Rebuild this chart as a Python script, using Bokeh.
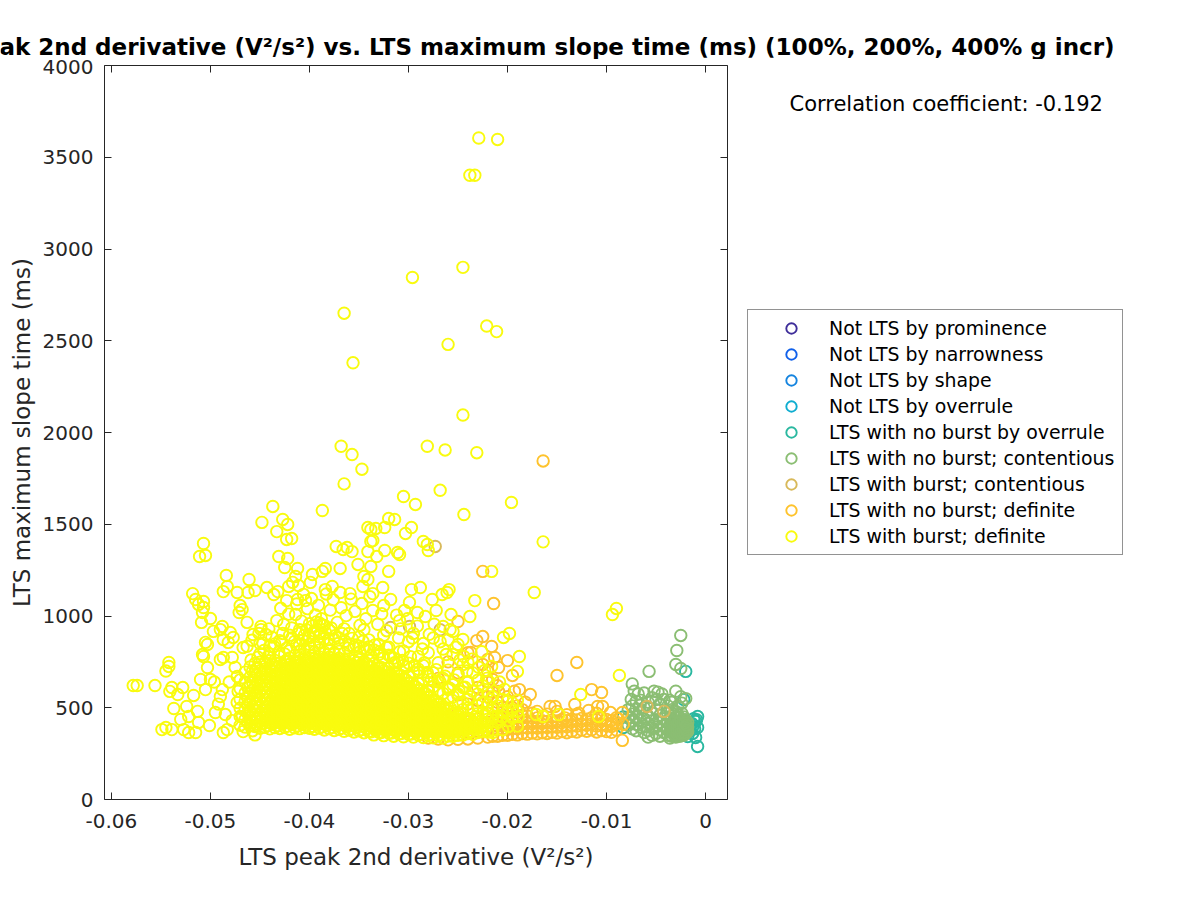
from bokeh.plotting import figure
from bokeh.layouts import column, row
from bokeh.models import Label, Legend, LegendItem, LinearAxis, Range1d, FixedTicker
from bokeh.embed import file_html
from bokeh.resources import INLINE

series_names = ["Not LTS by prominence", "Not LTS by narrowness", "Not LTS by shape", "Not LTS by overrule",
                "LTS with no burst by overrule", "LTS with no burst; contentious", "LTS with burst; contentious",
                "LTS with no burst; definite", "LTS with burst; definite"]
series_colors = ["#3F2E9A", "#1060EA", "#1584DF", "#0FADD0", "#2AB8A0", "#8BBE73", "#D8B95A", "#FEC32D", "#F9FB0E"]
x_ticks = [-0.06, -0.05, -0.04, -0.03, -0.02, -0.01, 0]
x_tick_labels = ["-0.06", "-0.05", "-0.04", "-0.03", "-0.02", "-0.01", "0"]
y_ticks = [0, 500, 1000, 1500, 2000, 2500, 3000, 3500, 4000]
title_text = "LTS peak 2nd derivative (V²/s²) vs. LTS maximum slope time (ms) (100%, 200%, 400% g incr)"
x_label = "LTS peak 2nd derivative (V²/s²)"
y_label = "LTS maximum slope time (ms)"
corr_text = "Correlation coefficient: -0.192"

yellow_sparse = [
 (-0.0229,3605),(-0.0210,3597),(-0.0238,3402),(-0.0233,3402),(-0.0245,2900),(-0.0296,2845),(-0.0365,2650),
 (-0.0221,2580),(-0.0211,2550),(-0.0260,2480),(-0.0356,2380),(-0.0245,2095),(-0.0368,1925),(-0.0281,1925),
 (-0.0263,1905),(-0.0231,1890),(-0.0357,1880),(-0.0347,1800),(-0.0365,1720),(-0.0268,1685),(-0.0305,1651),
 (-0.0293,1608),(-0.0196,1619),(-0.0244,1553),(-0.0387,1575),(-0.0164,1404),(-0.0437,1597),(-0.0448,1510),
 (-0.0427,1526),(-0.0422,1499),(-0.0433,1460),(-0.0418,1422),(-0.0423,1417),(-0.0507,1395),(-0.0505,1330),
 (-0.0511,1324),(-0.0431,1324),(-0.0422,1313),(-0.0425,1264),(-0.0412,1259),(-0.0373,1379),(-0.0362,1373),
 (-0.0366,1362),(-0.0357,1351),(-0.0341,1482),(-0.0338,1471),(-0.0338,1406),(-0.0341,1351),(-0.0351,1281),
 (-0.0369,1259),(-0.0384,1259),(-0.0387,1243),(-0.0397,1226),(-0.0484,1221),(-0.0461,1199),(-0.0414,1215),
 (-0.0483,1161),(-0.0487,1133),(-0.0473,1128),(-0.0462,1128),(-0.0455,1139),(-0.0443,1155),(-0.0432,1133),
 (-0.0436,1117),(-0.0421,1161),(-0.0417,1183),(-0.0411,1166),(-0.0399,1183),(-0.0384,1144),(-0.0377,1161),
 (-0.0369,1128),(-0.0359,1122),(-0.0345,1215),(-0.0341,1199),(-0.0346,1161),(-0.0518,1122),(-0.0515,1090),
 (-0.0507,1079),(-0.0512,1063),(-0.0507,1046),(-0.0508,1019),(-0.0500,986),(-0.0509,965),(-0.0470,1057),
 (-0.0468,1035),(-0.0471,1019),(-0.0463,965),(-0.0423,1084),(-0.0412,1090),(-0.0404,1084),(-0.0414,1008),
 (-0.0426,954),(-0.0449,943),(-0.0320,1531),(-0.0314,1526),(-0.0333,1477),(-0.0324,1482),(-0.0297,1482),
 (-0.0303,1450),(-0.0336,1411),(-0.0285,1406),(-0.0281,1390),(-0.0280,1357),(-0.0324,1357),(-0.0311,1346),
 (-0.0309,1335),(-0.0332,1324),(-0.0338,1270),(-0.0216,1243),(-0.0320,1243),(-0.0173,1128),(-0.0233,1084),
 (-0.0288,1155),(-0.0297,1144),(-0.0259,1144),(-0.0261,1128),(-0.0266,1117),(-0.0326,1155),(-0.0336,1122),
 (-0.0276,1090),(-0.0299,1074),(-0.0325,1057),(-0.0304,1030),(-0.0272,1030),(-0.0291,1019),(-0.0283,997),
 (-0.0257,1008),(-0.0238,997),(-0.0309,975),(-0.0198,905),(-0.0204,883),(-0.0188,779),(-0.0190,698),
 (-0.0223,703),(-0.0219,643),(-0.0094,1008),(-0.0090,1041),(-0.0087,676),(-0.0126,572),(-0.0108,452),
 (-0.0148,463),(-0.0164,452),(-0.0171,463),(-0.0200,534),(-0.0217,545),(-0.0245,872),(-0.0255,916),
 (-0.0265,943),(-0.0240,747),(-0.0244,779),(-0.0207,436),(-0.0199,398),(-0.0215,365),(-0.0189,452),
 (-0.0574,621),(-0.0578,621),(-0.0556,621),(-0.0542,747),(-0.0545,700),(-0.0542,725),(-0.0549,381),
 (-0.0545,392),(-0.0539,381),(-0.0539,610),(-0.0541,589),(-0.0528,610),(-0.0533,572),(-0.0537,496),
 (-0.0524,507),(-0.0530,436),(-0.0522,452),(-0.0527,381),(-0.0522,365),(-0.0515,365),(-0.0512,420),
 (-0.0501,403),(-0.0513,480),(-0.0517,567),(-0.0510,654),(-0.0505,599),(-0.0500,654),(-0.0507,779),
 (-0.0505,856),(-0.0497,916),(-0.0503,719),(-0.0490,926),(-0.0488,943),(-0.0480,910),(-0.0487,872),
 (-0.0482,856),(-0.0477,883),(-0.0490,763),(-0.0487,774),(-0.0478,774),(-0.0488,599),(-0.0490,561),
 (-0.0495,474),(-0.0485,463),(-0.0487,365),(-0.0483,381),(-0.0467,370),(-0.0473,670),(-0.0473,529),
 (-0.0472,589),(-0.0449,926),(-0.0444,899),(-0.0457,899),(-0.0467,828),(-0.0459,760),(-0.0475,720),
 (-0.0496,640),(-0.0492,520),(-0.0478,430),(-0.0468,450),(-0.0508,790),(-0.0503,845),(-0.0481,640),
]
yellow_upper = [
 (-0.0463,835),(-0.0458,868),(-0.0451,905),(-0.0447,852),(-0.0441,930),(-0.0438,885),(-0.0433,975),(-0.0429,1042),
 (-0.0427,905),(-0.0421,1010),(-0.0418,935),(-0.0413,1065),(-0.0408,972),(-0.0406,1118),(-0.0402,1040),(-0.0398,1095),
 (-0.0394,1006),(-0.0391,1058),(-0.0388,985),(-0.0383,1120),(-0.0379,1032),(-0.0376,1088),(-0.0372,965),(-0.0368,1045),
 (-0.0363,1002),(-0.0358,1092),(-0.0354,1025),(-0.0349,950),(-0.0347,1068),(-0.0343,985),(-0.0339,1105),(-0.0336,1030),
 (-0.0331,955),(-0.0327,1012),(-0.0322,920),(-0.0318,1090),(-0.0312,1005),(-0.0308,930),(-0.0301,985),(-0.0296,880),
 (-0.0291,945),(-0.0286,820),(-0.0279,900),(-0.0274,955),(-0.0268,860),(-0.0262,790),(-0.0258,925),(-0.0252,830),
 (-0.0248,760),(-0.0241,700),(-0.0236,765),(-0.0229,720),(-0.0226,805),(-0.0221,660),(-0.0216,725),(-0.0208,640),(-0.0203,600),
]
yellow_ridge = [
 (-0.0452,775),(-0.0446,812),(-0.0442,778),(-0.0436,835),(-0.0431,802),(-0.0428,858),(-0.0423,825),(-0.0418,880),
 (-0.0413,842),(-0.0411,905),(-0.0407,868),(-0.0403,925),(-0.0401,888),(-0.0397,945),(-0.0396,905),(-0.0393,968),
 (-0.0392,925),(-0.0389,905),(-0.0387,950),(-0.0384,912),(-0.0381,872),(-0.0378,935),(-0.0374,892),(-0.0371,850),
 (-0.0367,905),(-0.0364,862),(-0.0361,825),(-0.0357,878),(-0.0353,842),(-0.0349,805),(-0.0346,862),(-0.0342,818),
 (-0.0338,785),(-0.0334,842),(-0.0329,805),(-0.0326,770),(-0.0322,828),(-0.0318,782),(-0.0314,745),(-0.0309,805),
 (-0.0306,758),(-0.0302,722),(-0.0298,778),(-0.0294,730),(-0.0289,695),(-0.0284,745),(-0.0281,692),(-0.0277,655),
 (-0.0272,708),(-0.0268,640),(-0.0263,672),(-0.0258,605),(-0.0254,652),(-0.0249,590),(-0.0243,612),(-0.0238,560),
]
yellow_columns = [
 (-0.0470,[405,452,497,546,604,652]),(-0.0465,[395,436,488,533,581,640,694]),
 (-0.0460,[402,447,482,528,577,619,668,722]),(-0.0455,[352,398,439,484,521,566,611,652,693,741]),
 (-0.0450,[388,428,462,503,541,583,624,661,702,748,795,850]),(-0.0445,[394,431,470,504,547,586,622,668,709,747]),
 (-0.0440,[385,420,455,488,527,562,603,638,677,713,756,792,835]),(-0.0435,[392,426,462,497,533,569,607,644,683,722,758,848]),
 (-0.0430,[387,419,452,487,522,556,595,631,670,705,743,781,866]),(-0.0425,[394,428,461,496,531,567,603,641,676,714,752,793]),
 (-0.0420,[383,417,449,482,518,552,589,625,664,699,736,772,811,895]),(-0.0415,[391,424,458,493,528,561,598,634,672,708,745,784,861]),
 (-0.0410,[386,418,451,486,520,555,590,627,662,698,735,771,808,846,925]),(-0.0405,[392,425,459,494,527,562,598,636,671,707,743,780,818,895]),
 (-0.0400,[388,420,452,486,521,556,592,628,664,700,736,772,809,846,882,958]),(-0.0395,[383,415,449,483,517,553,587,624,660,695,732,768,805,842,918]),
 (-0.0390,[390,423,456,490,525,560,596,632,668,704,741,777,814,851,887,962]),(-0.0385,[379,412,446,481,515,550,586,621,658,694,730,767,803,876,949]),
 (-0.0380,[386,420,454,488,522,558,594,630,666,702,738,775,810,848,922]),(-0.0375,[376,410,443,478,512,547,583,619,655,690,727,763,800,874]),
 (-0.0370,[383,416,450,485,519,554,590,626,662,698,734,770,807,880]),(-0.0365,[372,406,440,475,509,544,580,616,652,688,724,761,797,930]),
 (-0.0360,[379,412,446,481,516,551,586,622,658,694,730,766,840,905]),(-0.0355,[368,402,436,471,505,541,577,612,648,684,720,757,830]),
 (-0.0350,[375,409,443,478,512,547,583,619,655,691,727,763,835,885]),(-0.0345,[364,398,432,467,502,537,573,609,645,681,717,753,826,925]),
 (-0.0340,[371,405,439,474,508,543,579,615,651,687,723,759,832,870]),(-0.0335,[352,386,420,455,490,525,561,597,633,669,705,741,815]),
 (-0.0330,[366,400,434,469,503,538,574,610,646,682,718,790,845]),(-0.0325,[348,382,416,451,485,521,556,592,628,664,700,772,895]),
 (-0.0320,[362,396,430,465,499,534,570,606,642,678,714,786,830]),(-0.0315,[345,379,413,447,482,517,553,589,625,661,697,770]),
 (-0.0310,[358,392,426,461,495,530,566,602,638,674,746,880]),(-0.0305,[342,376,410,444,479,514,550,586,622,658,730,810]),
 (-0.0300,[355,389,423,458,492,527,563,599,635,671,743,860]),(-0.0295,[340,374,408,442,476,512,547,583,619,692,905]),
 (-0.0290,[352,386,420,455,489,524,560,596,632,710,780]),(-0.0285,[338,372,406,440,474,509,545,581,653,730,850]),
 (-0.0280,[350,384,418,452,487,522,558,594,672,800]),(-0.0275,[336,370,404,438,472,507,543,615,690,880]),
 (-0.0270,[348,382,416,450,485,520,591,640,745]),(-0.0265,[335,369,403,437,471,506,578,660,820]),
 (-0.0260,[346,380,414,448,482,553,600,705,870]),(-0.0255,[345,378,412,446,480,560,625,790]),
 (-0.0250,[350,384,418,452,523,575,680,845]),(-0.0245,[352,386,420,490,530,610,735]),
 (-0.0240,[360,394,428,498,545,640]),(-0.0235,[355,389,423,495,590,690]),
 (-0.0230,[365,399,468,510,575,650]),(-0.0225,[372,406,476,530,620]),
 (-0.0220,[368,437,472,515,585]),(-0.0215,[378,447,490,560]),
 (-0.0210,[420,455,510]),(-0.0205,[380,450,480,545]),(-0.0200,[430,470]),
 (-0.0195,[445,490,525]),(-0.0190,[400,480,540]),
]
yellow_core_columns = [
 (-0.04625,[420,470,515,560,610]),(-0.04575,[375,420,465,505,550,595,640,700]),(-0.04525,[410,450,485,522,562,603,642,680,720]),
 (-0.04475,[412,450,487,525,565,603,645,688]),(-0.04425,[403,438,472,508,545,582,620,658,695]),
 (-0.04375,[410,444,480,515,551,588,625,664,703,740]),(-0.04325,[403,436,470,505,539,576,613,650,688,724]),
 (-0.04275,[411,445,479,514,549,585,622,658,695,733]),(-0.04225,[400,433,466,500,535,570,607,644,681,717,754]),
 (-0.04175,[408,441,475,510,545,580,616,653,690,726]),(-0.04125,[402,435,469,503,538,573,609,645,680,716,753]),
 (-0.04075,[409,442,476,510,545,580,617,653,689,725]),(-0.04025,[404,436,469,503,538,574,610,646,682,718,754]),
 (-0.03975,[399,432,466,500,535,570,606,642,678,714,750]),(-0.03925,[406,439,473,507,542,578,614,650,686,722,759]),
 (-0.03875,[396,429,463,498,532,568,604,640,676,712,749]),(-0.03825,[403,437,471,505,540,576,612,648,684,720,756]),
 (-0.03775,[393,426,460,495,530,565,601,637,673,709,745]),(-0.03725,[400,433,467,502,536,572,608,644,680,716,752]),
 (-0.03675,[389,423,457,492,526,562,598,634,670,706,742]),(-0.03625,[396,429,463,498,533,569,604,640,676,712,748]),
 (-0.03575,[385,419,453,488,523,559,595,630,666,702,738]),(-0.03525,[392,426,460,495,530,565,601,637,673,709,745]),
 (-0.03475,[381,415,449,484,519,555,591,627,663,699,735]),(-0.03425,[388,422,456,491,525,561,597,633,669,705,741]),
 (-0.03375,[369,403,437,472,507,543,579,615,651,687,723]),(-0.03325,[383,417,451,486,520,556,592,628,664,700]),
 (-0.03275,[365,399,433,468,503,538,574,610,646,682,719]),(-0.03225,[379,413,447,482,516,552,588,624,660,696]),
 (-0.03175,[362,396,430,464,499,535,571,607,643,679]),(-0.03125,[375,409,443,478,512,548,584,620,656,692]),
 (-0.03075,[359,393,427,461,496,532,568,604,640,676]),(-0.03025,[372,406,440,475,509,545,581,617,653]),
 (-0.02975,[357,391,425,459,494,529,565,601,637]),(-0.02925,[369,403,437,472,506,542,578,614]),
 (-0.02875,[355,389,423,457,491,527,563,599]),(-0.02825,[367,401,435,469,504,540,576]),
 (-0.02775,[353,387,421,455,489,525,561]),(-0.02725,[365,399,433,467,502,537]),
 (-0.02675,[352,386,420,454,488,523]),(-0.02625,[363,397,431,465,500]),
 (-0.02575,[362,395,429,463,497]),(-0.02525,[367,401,435,469]),
 (-0.02475,[369,403,437,472]),(-0.02425,[377,411,445]),
 (-0.02375,[372,406,440]),(-0.02325,[382,416,450]),
 (-0.02275,[389,423]),(-0.02225,[385,420,455]),
]
orange_sparse = [
 (-0.0214,1068),(-0.0250,970),(-0.0225,888),(-0.0231,866),(-0.0216,834),(-0.0200,757),(-0.0209,719),
 (-0.0213,774),(-0.0220,763),(-0.0225,736),(-0.0195,676),(-0.0188,599),(-0.0177,572),(-0.0209,589),
 (-0.0215,654),(-0.0237,801),(-0.0130,747),(-0.0150,676),(-0.0115,599),(-0.0105,583),(-0.0132,518),
 (-0.0157,507),(-0.0152,507),(-0.0118,485),(-0.0109,507),(-0.0104,507),(-0.0096,474),(-0.0084,474),
 (-0.0084,322),(-0.0083,409),(-0.0164,1845),(-0.0225,1243),(-0.0193,590),
 (-0.0182,530),(-0.0170,480),(-0.0142,445),(-0.0128,470),(-0.0095,410),(-0.0088,440),
]
orange_columns = [
 (-0.0280,[335,380,470,590]),(-0.0270,[330,385,520,660]),(-0.0260,[325,370,450,610,750]),(-0.0250,[328,375,470,570,690]),
 (-0.0240,[330,368,425,520,640,800]),(-0.0230,[335,372,440,540,610]),(-0.0220,[340,378,420,470,560,640,700]),
 (-0.0215,[345,385,425,500,585]),(-0.0210,[345,380,415,450,530,620]),(-0.0205,[350,385,420,460,500]),
 (-0.0200,[350,383,416,450,490,560]),(-0.0195,[355,388,420,455,500]),(-0.0190,[352,385,418,450,510]),
 (-0.0185,[360,392,425,460,490]),(-0.0180,[356,389,422,455]),(-0.0175,[362,395,428,470]),(-0.0170,[358,390,424,445]),
 (-0.0165,[364,396,430]),(-0.0160,[360,392,425,465]),(-0.0155,[366,398,432]),(-0.0150,[362,394,428,480]),
 (-0.0145,[370,402,436]),(-0.0140,[364,396,430,462]),(-0.0135,[372,404,438]),(-0.0130,[368,400,434,465]),
 (-0.0125,[378,410,442]),(-0.0120,[372,404,438]),(-0.0115,[380,412,446]),(-0.0110,[368,400,434,470]),
 (-0.0105,[376,408,442]),(-0.0100,[370,402,436]),(-0.0095,[366,398,430]),(-0.0090,[378,412,446]),
]
contentious_burst = [(-0.0059,507),(-0.0042,480),(-0.0273,1379),(-0.0299,943),(-0.0318,937),(-0.0268,925)]
green_sparse = [
 (-0.0025,894),(-0.0029,812),(-0.0030,736),(-0.0025,714),(-0.0057,698),(-0.0074,630),
 (-0.0072,590),(-0.0068,575),(-0.0062,580),(-0.0052,590),(-0.0048,585),(-0.0044,575),(-0.0030,590),(-0.0025,560),
 (-0.0020,550),(-0.0075,545),(-0.0065,540),(-0.0050,545),(-0.0036,540),
]
green_columns = [
 (-0.0078,[405,445,490]),(-0.0074,[385,425,465,510]),(-0.0070,[375,410,450,495,535]),(-0.0066,[395,435,475,515]),
 (-0.0062,[365,400,440,500]),(-0.0058,[340,375,415,455,530]),(-0.0054,[350,390,430,470,555]),(-0.0050,[360,395,435,490]),
 (-0.0046,[345,380,420,460,520]),(-0.0042,[365,400,440,545]),(-0.0038,[350,385,425,470,510]),(-0.0036,[335,370,405,445]),
 (-0.0034,[345,375,410,440,490,530]),(-0.0032,[355,380,405,430,465]),(-0.0030,[340,365,390,415,445,480]),
 (-0.0028,[350,375,400,425,460,510]),(-0.0026,[345,370,395,420,445]),(-0.0024,[355,380,405,430,470,525]),
 (-0.0022,[350,375,400,425,450]),(-0.0020,[360,385,410,435]),(-0.0018,[370,395,420]),
 (-0.0033,[360,392,420]),(-0.0031,[352,378,402,430]),(-0.0029,[358,385,412]),(-0.0027,[362,388,415]),
 (-0.0025,[358,382,408,432]),(-0.0023,[362,388,412]),(-0.0021,[365,392,418]),(-0.0019,[378,405]),
]
teal_points = [
 (-0.0008,452),(-0.0008,392),(-0.0010,338),(-0.0008,289),(-0.0012,440),(-0.0010,425),(-0.0012,405),(-0.0009,435),
 (-0.0011,385),(-0.0014,415),(-0.0016,395),(-0.0022,545),(-0.0020,698),(-0.0083,392),(-0.0083,450),(-0.0018,343),
 (-0.0016,370),(-0.0013,360),
]


def expand(sparse, *column_sets):
    xs = [pt[0] for pt in sparse]
    ys = [pt[1] for pt in sparse]
    for columns in column_sets:
        for cx, col in columns:
            xs.extend([cx] * len(col))
            ys.extend(col)
    return xs, ys


series_points = [
    ([], []), ([], []), ([], []), ([], []),
    expand(teal_points),
    expand(green_sparse, green_columns),
    expand(contentious_burst),
    expand(orange_sparse, orange_columns),
    expand(yellow_sparse + yellow_upper + yellow_ridge, yellow_columns, yellow_core_columns),
]

INK = "#262626"
FONT = "DejaVu Sans"
HEADER_H = 59
MAIN_W = 745
BODY_H = 825

header = figure(width=1184, height=HEADER_H, x_range=Range1d(0, 1184), y_range=Range1d(0, HEADER_H),
                output_backend="svg", toolbar_location=None, min_border=0, outline_line_color=None,
                x_axis_type=None, y_axis_type=None, background_fill_color="white", border_fill_color="white")
header.grid.visible = False
header.add_layout(Label(x=1114, y=13, x_units="screen", y_units="screen", text=title_text, text_align="right",
                        text_baseline="middle", text_font=FONT, text_font_size="23px", text_font_style="bold",
                        text_color="black"))

p = figure(width=MAIN_W, height=BODY_H, frame_width=623, frame_height=734,
           x_range=Range1d(-0.0607, 0.00222), y_range=Range1d(0, 4000),
           output_backend="svg", toolbar_location=None,
           min_border_left=104, min_border_top=6, min_border_right=18, min_border_bottom=84,
           background_fill_color="white", border_fill_color="white")
p.grid.visible = False
p.outline_line_color = None


def style(ax, ticks):
    ax.ticker = FixedTicker(ticks=ticks)
    ax.axis_line_color = INK
    ax.axis_line_width = 1
    ax.major_tick_line_color = INK
    ax.major_tick_line_width = 1
    ax.major_tick_in = 7
    ax.major_tick_out = 0
    ax.minor_tick_line_color = None
    ax.major_label_text_font = FONT
    ax.major_label_text_font_size = "20px"
    ax.major_label_text_color = INK
    ax.axis_label_text_font = FONT
    ax.axis_label_text_font_size = "23px"
    ax.axis_label_text_font_style = "normal"
    ax.axis_label_text_color = INK


style(p.xaxis[0], x_ticks)
style(p.yaxis[0], y_ticks)
p.xaxis[0].major_label_overrides = {t: s for t, s in zip(x_ticks, x_tick_labels)}
p.xaxis[0].axis_label = x_label
p.yaxis[0].axis_label = y_label
p.xaxis[0].major_label_standoff = 14
p.yaxis[0].major_label_standoff = 11
p.xaxis[0].axis_label_standoff = 13
top_axis = LinearAxis()
right_axis = LinearAxis()
style(top_axis, x_ticks)
style(right_axis, y_ticks)
for extra, ticks in ((top_axis, x_ticks), (right_axis, y_ticks)):
    extra.major_label_overrides = {t: "" for t in ticks}
    extra.major_label_text_font_size = "2px"
    extra.major_label_standoff = 0
p.add_layout(top_axis, "above")
p.add_layout(right_axis, "right")

for color, (xs, ys) in zip(series_colors, series_points):
    p.scatter(xs, ys, marker="circle", size=11.5, fill_color=None, line_color=color, line_width=1.9)

side = figure(width=1184 - MAIN_W, height=BODY_H, x_range=Range1d(0, 1184 - MAIN_W), y_range=Range1d(0, BODY_H),
              output_backend="svg", toolbar_location=None, min_border=0, outline_line_color=None,
              x_axis_type=None, y_axis_type=None, background_fill_color="white", border_fill_color="white")
side.grid.visible = False
items = []
for name, color in zip(series_names, series_colors):
    # A swatch for the legend only: its one point lies outside this panel's range.
    proxy = side.scatter([-1000], [-1000], marker="circle", size=11.5, fill_color=None, line_color=color, line_width=1.9)
    items.append(LegendItem(label=name, renderers=[proxy]))
legend = Legend(items=items, location=(2, 245), margin=0, padding=5, spacing=0,
                glyph_width=76, glyph_height=26, label_height=26, label_standoff=0, label_width=288,
                border_line_color=INK, border_line_width=1, background_fill_color="white", background_fill_alpha=1,
                label_text_font=FONT, label_text_font_size="18.9px", label_text_color="black")
side.add_layout(legend, "center")
side.add_layout(Label(x=44, y=697, x_units="screen", y_units="screen", text=corr_text,
                      text_align="left", text_baseline="middle", text_font=FONT, text_font_size="21px",
                      text_color="black"))

page = column(header, row(p, side, spacing=0), spacing=0)
open("out.html", "w").write(file_html(page, INLINE))
